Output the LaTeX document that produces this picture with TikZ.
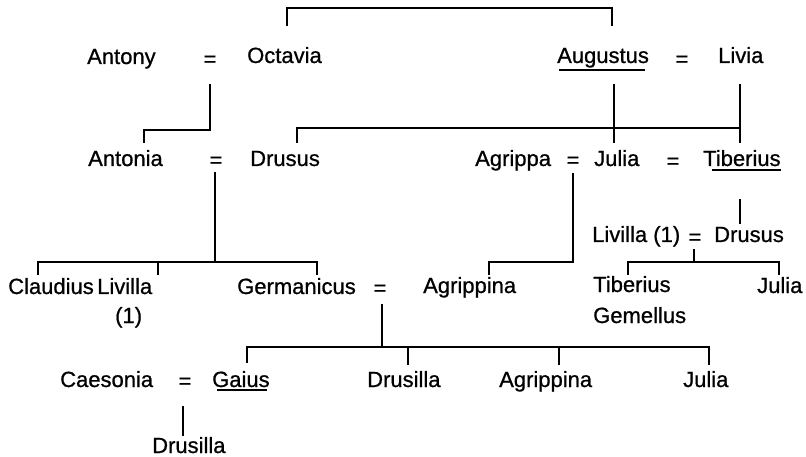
\documentclass[tikz,border=0pt]{standalone}
\usepackage{fontspec}
\setmainfont{Liberation Sans}
\newfontfamily\namefam[FakeBold=0.8]{Liberation Sans}
\newcommand{\namefont}{\namefam\fontsize{22}{26}\selectfont}
\begin{document}
\begin{tikzpicture}[x=1pt,y=-1pt,
  person/.style={anchor=base west, inner sep=0pt, font=\namefont},
  eqsign/.style={anchor=center, inner sep=0pt, font=\namefont},
  link/.style={line width=2.8pt, line join=miter, line cap=rect},
  uline/.style={line width=2.2pt}]
\useasboundingbox (0,0) rectangle (806,457);
% row 1
\node[person] (antony)   at (87,64)  {Antony};
\node[eqsign] (e1)       at (210,61) {=};
\node[person] (octavia)  at (247,63) {Octavia};
\node[person] (augustus) at (557,63) {Augustus};
\node[eqsign] (e2)       at (682,61) {=};
\node[person] (livia)    at (718,63) {Livia};
% row 2
\node[person] (antonia)  at (88,166) {Antonia};
\node[eqsign] (e3)       at (216,162) {=};
\node[person] (drususA)  at (250,166) {Drusus};
\node[person] (agrippa)  at (475,166) {Agrippa};
\node[eqsign] (e4)       at (573,162) {=};
\node[person] (juliaA)   at (594,166) {Julia};
\node[eqsign] (e5)       at (673,163) {=};
\node[person] (tiberius) at (703,166) {Tiberius};
% row 2b
\node[person] (livillaA) at (592,242) {Livilla (1)};
\node[eqsign] (e6)       at (695,239) {=};
\node[person] (drususB)  at (714,242) {Drusus};
% row 3
\node[person] (claudius) at (8,294)   {Claudius};
\node[person] (livillaB) at (97,294)  {Livilla};
\node[person] (livillaN) at (115,323) {(1)};
\node[person] (germanicus) at (237,294) {Germanicus};
\node[eqsign] (e7)       at (380,290) {=};
\node[person] (agrippinaA) at (423,293) {Agrippina};
\node[person] (tibG1)    at (593,292) {Tiberius};
\node[person] (tibG2)    at (593,323) {Gemellus};
\node[person] (juliaB)   at (757,293) {Julia};
% row 4
\node[person] (caesonia) at (60,387)  {Caesonia};
\node[eqsign] (e8)       at (185,383) {=};
\node[person] (gaius)    at (212,387) {Gaius};
\node[person] (drusillaA) at (367,387) {Drusilla};
\node[person] (agrippinaB) at (499,387) {Agrippina};
\node[person] (juliaC)   at (683,387) {Julia};
% row 5
\node[person] (drusillaB) at (152,453) {Drusilla};
% underlines
\draw[uline] (559,70) -- (645,70);
\draw[uline] (712,170) -- (781,170);
\draw[uline] (217,390) -- (267,390);
% junction coordinates
\coordinate (octTop) at (287,25);
\coordinate (augTop) at (612,25);
\coordinate (aoDown) at (210,85);
\coordinate (antoniaUp) at (144,142);
\coordinate (augDown) at (614,85);
\coordinate (juliaUp) at (614,142);
\coordinate (livDown) at (740,85);
\coordinate (tibUp) at (740,142);
\coordinate (drusAUp) at (297,142);
\coordinate (adDown) at (215,173);
\coordinate (claudUp) at (38,274);
\coordinate (livBUp) at (158,274);
\coordinate (germUp) at (317,274);
\coordinate (ajDown) at (573,174);
\coordinate (agrAUp) at (489,274);
\coordinate (tibDown) at (740,200);
\coordinate (drusBUp) at (740,223);
\coordinate (ldDown) at (694,250);
\coordinate (tibGUp) at (628,274);
\coordinate (juliaBUp) at (779,274);
\coordinate (gaDown) at (382,305);
\coordinate (gaiusUp) at (247,362);
\coordinate (drusAUp2) at (408,364);
\coordinate (agrBUp) at (559,364);
\coordinate (juliaCUp) at (709,364);
\coordinate (cgDown) at (183,407);
\coordinate (drusBUp2) at (183,435);
% connectors
\draw[link] (octTop) -- ++(0,-17) -| (augTop);
\draw[link] (aoDown) |- (144,130) -- (antoniaUp);
\draw[link] (drusAUp) |- (740,128);
\draw[link] (augDown) -- (juliaUp);
\draw[link] (livDown) -- (tibUp);
\draw[link] (adDown) -- (215,262);
\draw[link] (claudUp) |- (317,262) -- (germUp);
\draw[link] (livBUp) -- (158,262);
\draw[link] (ajDown) |- (489,262) -- (agrAUp);
\draw[link] (tibDown) -- (drusBUp);
\draw[link] (ldDown) -- (694,262);
\draw[link] (tibGUp) |- (779,262) -- (juliaBUp);
\draw[link] (gaDown) -- (382,347);
\draw[link] (gaiusUp) |- (709,347) -- (juliaCUp);
\draw[link] (drusAUp2) -- (408,347);
\draw[link] (agrBUp) -- (559,347);
\draw[link] (cgDown) -- (drusBUp2);
\end{tikzpicture}
\end{document}
